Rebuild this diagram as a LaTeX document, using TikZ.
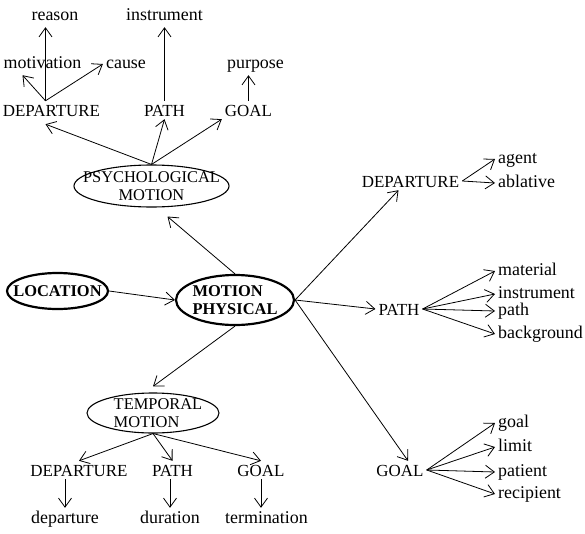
\documentclass[tikz,border=0pt]{standalone}
\usepackage{fontspec}
\setmainfont{Liberation Serif}
\usetikzlibrary{arrows.meta,shapes.geometric}

\begin{document}
\begin{tikzpicture}[>={Straight Barb[length=9bp,width=13bp]},
  concept/.style={anchor=base, font=\fontsize{17}{17}\selectfont, inner sep=3bp, text height=12bp, text depth=0bp},
  role/.style={anchor=base, font=\fontsize{18}{18}\selectfont, inner sep=3bp, text height=12bp, text depth=4bp},
  oval/.style={draw, ellipse, inner sep=0pt, line width=1.1pt},
  boldoval/.style={oval, line width=2.2pt},
  link/.style={->, line width=0.8pt}]

\useasboundingbox (0,0) rectangle (585bp,-534bp);

% the three motions and location
\node (PM) at (151.5bp,-186bp)[oval, minimum width=155bp, minimum height=42bp, label={[align=center, font=\fontsize{16.5}{17.5}\selectfont]center:PSYCHOLOGICAL\\MOTION}] {};
\node (MP) at (235bp,-300bp)[boldoval, minimum width=118bp, minimum height=50bp, label={[align=left, font=\fontsize{16.5}{18}\selectfont\bfseries]center:MOTION\\PHYSICAL}] {};
\node (LOC) at (57.5bp,-291bp)[boldoval, minimum width=101bp, minimum height=36bp, label={[font=\fontsize{16.5}{16}\selectfont\bfseries]center:LOCATION}] {};
\node (TM) at (153bp,-413bp)[oval, minimum width=132bp, minimum height=40bp, label={[align=left, xshift=5bp, font=\fontsize{16.5}{17.5}\selectfont]center:TEMPORAL\\MOTION}] {};

% psychological tree
\node (PD) at (51.5bp,-116bp)[concept] {DEPARTURE};
\node (PP) at (164.5bp,-116bp)[concept] {PATH};
\node (PG) at (248.5bp,-116bp)[concept] {GOAL};
\node (R) at (55bp,-20bp)[role] {reason};
\node (INS) at (164.5bp,-20bp)[role] {instrument};
\node (MOT) at (42.5bp,-68bp)[role] {motivation};
\node (CAU) at (126bp,-68bp)[role] {cause};
\node (PUR) at (255.5bp,-68bp)[role] {purpose};

% physical tree
\node (RD) at (410.5bp,-187bp)[concept] {DEPARTURE};
\node (RP) at (399bp,-315bp)[concept] {PATH};
\node (RG) at (400bp,-476bp)[concept] {GOAL};
\node (AG) at (495bp,-163bp)[role, anchor=base west] {agent};
\node (ABL) at (495bp,-187bp)[role, anchor=base west] {ablative};
\node (MAT) at (495bp,-275bp)[role, anchor=base west] {material};
\node (INS2) at (495bp,-298bp)[role, anchor=base west] {instrument};
\node (PTH) at (495bp,-315bp)[role, anchor=base west] {path};
\node (BG) at (495bp,-338bp)[role, anchor=base west] {background};
\node (GL) at (495bp,-427bp)[role, anchor=base west] {goal};
\node (LIM) at (495bp,-451bp)[role, anchor=base west] {limit};
\node (PAT) at (495bp,-476bp)[role, anchor=base west] {patient};
\node (REC) at (495bp,-498bp)[role, anchor=base west] {recipient};

% temporal tree
\node (TD) at (79bp,-476bp)[concept] {DEPARTURE};
\node (TP) at (172.5bp,-476bp)[concept] {PATH};
\node (TG) at (261bp,-476bp)[concept] {GOAL};
\node (DEP) at (65bp,-523bp)[role] {departure};
\node (DUR) at (170bp,-523bp)[role] {duration};
\node (TER) at (266.5bp,-523bp)[role] {termination};

\coordinate (PDtop) at ([xshift=-6bp]PD.north);
\draw [link] (PDtop) -- (PDtop |- R.south);
\draw [link] (PDtop) -- ([xshift=-20bp]MOT.south);
\draw [link] (PDtop) -- (CAU.west);
\draw [link] (PP.north) -- (INS.south);
\draw [link] (PG.north) -- (PG.north |- PUR.south);
\draw [link] (PM.north) -- ([xshift=-6bp,yshift=-5bp]PD.south);
\draw [link] (PM.north) -- (PP.south);
\draw [link] (PM.north) -- (PG.south west);

\draw [link] (LOC.east) -- (MP.west);
\draw [link] (MP.north) -- ([xshift=16bp,yshift=-9bp]PM.south);
\draw [link] (MP.east) -- ([xshift=-12bp]RD.south);
\draw [link] (MP.east) -- (RP.west);
\draw [link] (MP.east) -- ([xshift=8bp]RG.north);
\draw [link] (MP.south) -- ([yshift=6bp]TM.north);

\draw [link] (RD.east) -- (AG.west);
\draw [link] (RD.east) -- (ABL.west);
\draw [link] (RP.east) -- (MAT.west);
\draw [link] (RP.east) -- (INS2.west);
\draw [link] (RP.east) -- (PTH.west);
\draw [link] (RP.east) -- (BG.west);
\draw [link] (RG.east) -- (GL.west);
\draw [link] (RG.east) -- (LIM.west);
\draw [link] (RG.east) -- (PAT.west);
\draw [link] (RG.east) -- (REC.west);

\draw [link] (TM.south) -- (TD.north);
\draw [link] (TM.south) -- (TP.north);
\draw [link] (TM.south) -- (TG.north);
\draw [link] (DEP.north |- TD.south) -- (DEP.north);
\draw [link] (DUR.north |- TP.south) -- (DUR.north);
\draw [link] (TG.south) -- (TG.south |- TER.north);
\end{tikzpicture}
\end{document}
